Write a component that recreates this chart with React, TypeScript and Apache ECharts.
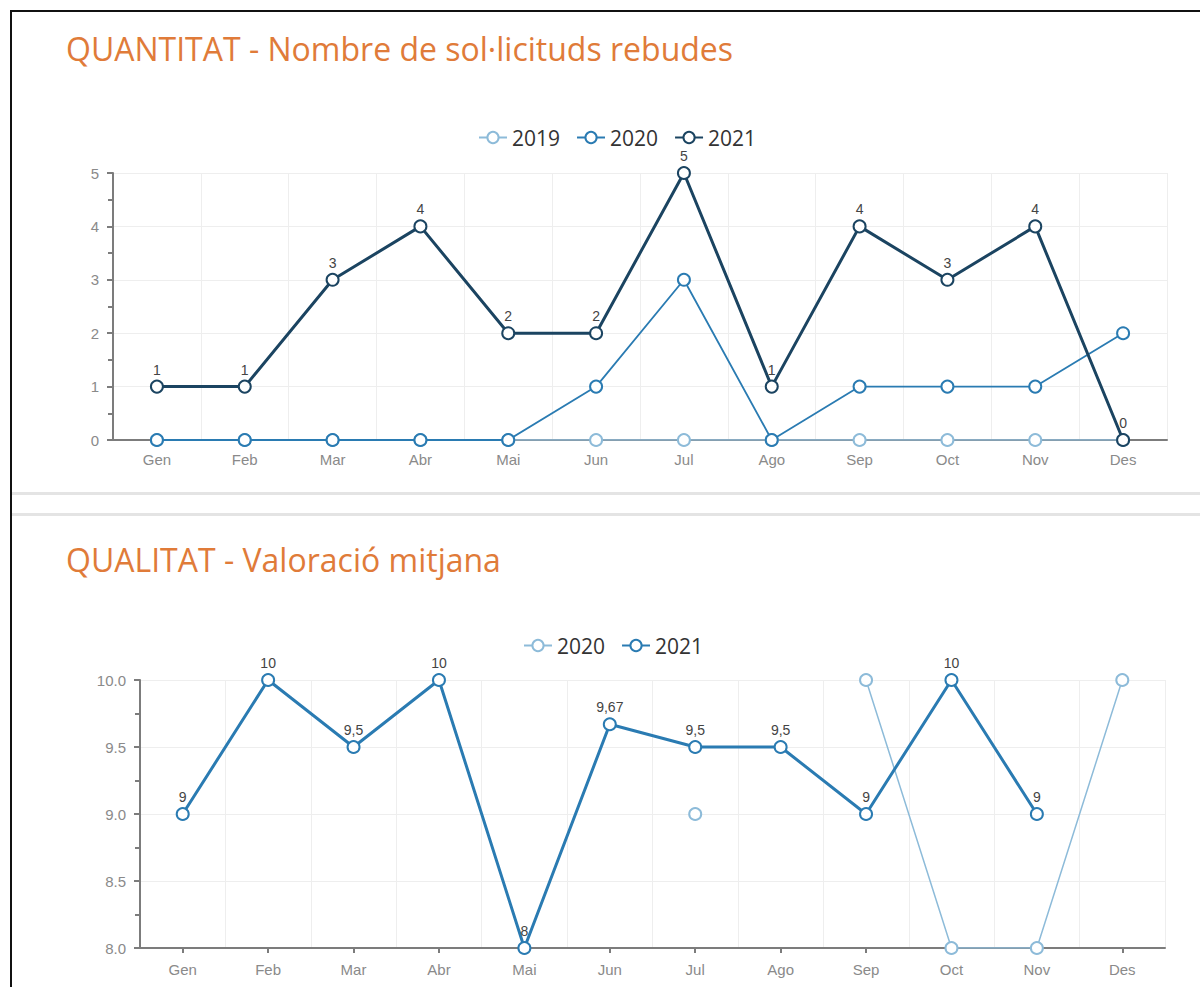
import React, { useEffect, useRef } from "react";
import * as echarts from "echarts";

const months = ["Gen", "Feb", "Mar", "Abr", "Mai", "Jun", "Jul", "Ago", "Sep", "Oct", "Nov", "Des"];

const title1 = "QUANTITAT - Nombre de sol·licituds rebudes";
const title2 = "QUALITAT - Valoració mitjana";

// Chart 1: number of requests received
const q2019 = [0, 0, 0, 0, 0, 0, 0, 0, 0, 0, 0, 0];
const q2020 = [0, 0, 0, 0, 0, 1, 3, 0, 1, 1, 1, 2];
const q2021 = [1, 1, 3, 4, 2, 2, 5, 1, 4, 3, 4, 0];

// Chart 2: average rating
const v2020 = [null, null, null, null, null, null, 9, null, 10, 8, 8, 10];
const v2021 = [9, 10, 9.5, 10, 8, 9.67, 9.5, 9.5, 9, 10, 9, null];

const cLight = "#8dbbd9";
const cMid = "#2a7bb2";
const cDark = "#1b4461";

export default function App() {
  const ref = useRef<HTMLDivElement>(null);
  useEffect(() => {
    if (!ref.current) return;
    const chart = echarts.init(ref.current, null, { renderer: "svg" });
    const axisLabel = { color: "#8a8a8a", fontSize: 15, fontFamily: "Liberation Sans, Arial, sans-serif" };
    const splitLine = { show: true, lineStyle: { color: "#eeeeee", width: 1 } };
    const axisLine = { show: true, lineStyle: { color: "#7c7c7c", width: 2 } };
    const dataLabel = (fmt?: (p: any) => string) => ({
      show: true,
      position: "top",
      distance: 3,
      color: "#444",
      fontSize: 14,
      fontFamily: "Liberation Sans, Arial, sans-serif",
      formatter: fmt || ((p: any) => String(p.value)),
    });
    const mk = (name: string, data: any[], color: string, lw: number, bw: number, xi: number, label?: any, z = 2) => ({
      name,
      type: "line",
      xAxisIndex: xi,
      yAxisIndex: xi,
      data,
      symbol: "emptyCircle",
      symbolSize: 12,
      connectNulls: false,
      lineStyle: { color, width: lw },
      itemStyle: { color, borderColor: color, borderWidth: bw },
      label: label || { show: false },
      emphasis: { disabled: true },
      z,
    });
    const titleStyle = { color: "#e07b39", fontSize: 32, fontWeight: "normal", fontFamily: "Open Sans, sans-serif" };
    const legendText = { color: "#333", fontSize: 21, fontFamily: "Open Sans, sans-serif" };
    const option: any = {
      animation: false,
      backgroundColor: "#ffffff",
      title: [
        { text: title1, left: 66, top: 32, padding: 0, textStyle: titleStyle },
        { text: title2, left: 66, top: 543, padding: 0, textStyle: titleStyle },
      ],
      legend: [
        {
          data: ["2019", "2020", "2021"],
          top: 122,
          left: 473,
          itemWidth: 28,
          itemHeight: 14,
          itemGap: 16,
          textStyle: legendText,
        },
        {
          data: ["2020 ", "2021 "],
          top: 630,
          left: 518,
          itemWidth: 28,
          itemHeight: 14,
          itemGap: 16,
          textStyle: legendText,
          formatter: (n: string) => n.trim(),
        },
      ],
      grid: [
        { left: 113, right: 33, top: 173, height: 267, containLabel: false },
        { left: 140, right: 35, top: 680, height: 268, containLabel: false },
      ],
      xAxis: [0, 1].map((i) => ({
        type: "category",
        gridIndex: i,
        data: months,
        boundaryGap: true,
        axisLine,
        axisTick: { show: true, alignWithLabel: true, length: 5, lineStyle: { color: "#7c7c7c", width: 2 } },
        axisLabel: { ...axisLabel, margin: i === 0 ? 12 : 14 },
        splitLine,
      })),
      yAxis: [
        {
          type: "value",
          gridIndex: 0,
          min: 0,
          max: 5,
          interval: 1,
          axisLine,
          axisTick: { show: true, length: 6, lineStyle: { color: "#7c7c7c", width: 2 } },
          minorTick: { show: true, splitNumber: 2, length: 5, lineStyle: { color: "#7c7c7c", width: 2 } },
          axisLabel: { ...axisLabel, margin: 14 },
          splitLine,
        },
        {
          type: "value",
          gridIndex: 1,
          min: 8,
          max: 10,
          interval: 0.5,
          axisLine,
          axisTick: { show: true, length: 6, lineStyle: { color: "#7c7c7c", width: 2 } },
          minorTick: { show: true, splitNumber: 2, length: 5, lineStyle: { color: "#7c7c7c", width: 2 } },
          axisLabel: { ...axisLabel, margin: 14, formatter: (v: number) => v.toFixed(1) },
          splitLine,
        },
      ],
      series: [
        mk("2019", q2019, cLight, 1.5, 2.5, 0, undefined, 2),
        mk("2020", q2020, cMid, 1.8, 3, 0, undefined, 3),
        mk("2021", q2021, cDark, 3, 3, 0, dataLabel(), 4),
        mk("2020 ", v2020, cLight, 1.5, 2.5, 1, undefined, 2),
        mk("2021 ", v2021, cMid, 3, 3, 1, dataLabel((p: any) => String(p.value).replace(".", ",")), 3),
      ],
      graphic: [
        {
          type: "polyline",
          shape: { points: [[11, 987], [11, 11], [1200, 11]] },
          style: { stroke: "#111", lineWidth: 2, fill: "none" },
          silent: true,
        },
        { type: "rect", shape: { x: 12, y: 492, width: 1188, height: 3 }, style: { fill: "#e4e4e4" }, silent: true },
        { type: "rect", shape: { x: 12, y: 513, width: 1188, height: 3 }, style: { fill: "#e4e4e4" }, silent: true },
      ],
    };
    chart.setOption(option);
    return () => chart.dispose();
  }, []);
  return <div ref={ref} style={{ position: "absolute", left: 0, top: 0, width: 1200, height: 987 }} />;
}
